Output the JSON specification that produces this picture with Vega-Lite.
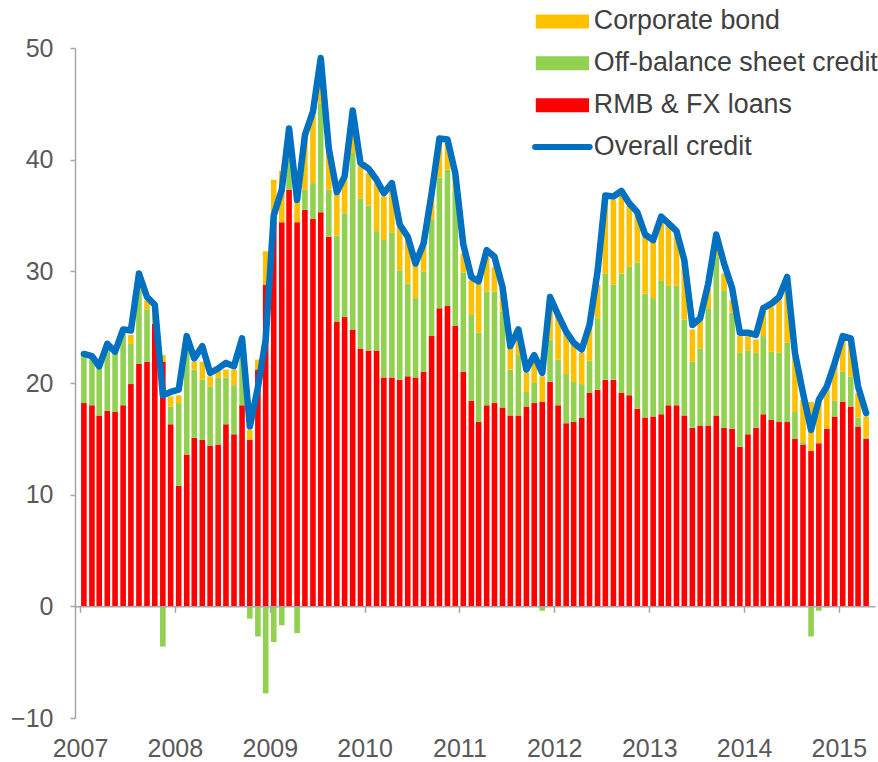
{
  "$schema": "https://vega.github.io/schema/vega-lite/v6.json",
  "width": 800,
  "height": 670,
  "autosize": {"type": "none"},
  "padding": {"left": 75, "top": 48, "right": 3, "bottom": 44},
  "background": "white",
  "config": {"view": {"stroke": null}, "font": "Liberation Sans"},
  "data": {"values": [
    {"d":"2007-01-16","rmb":18.2,"obs":4.2,"bond":0.1,"total":22.6},
    {"d":"2007-02-16","rmb":18.0,"obs":4.2,"bond":0.1,"total":22.4},
    {"d":"2007-03-16","rmb":17.1,"obs":4.4,"bond":0.1,"total":21.5},
    {"d":"2007-04-16","rmb":17.5,"obs":5.7,"bond":0.2,"total":23.5},
    {"d":"2007-05-16","rmb":17.4,"obs":5.3,"bond":0.1,"total":22.8},
    {"d":"2007-06-16","rmb":18.0,"obs":6.6,"bond":0.2,"total":24.8},
    {"d":"2007-07-16","rmb":19.9,"obs":3.6,"bond":0.8,"total":24.7},
    {"d":"2007-08-16","rmb":21.7,"obs":6.6,"bond":0.6,"total":29.8},
    {"d":"2007-09-16","rmb":21.9,"obs":4.7,"bond":0.8,"total":27.7},
    {"d":"2007-10-16","rmb":25.3,"obs":0.9,"bond":0.4,"total":27.0},
    {"d":"2007-11-16","rmb":21.9,"obs":-3.6,"bond":0.6,"total":18.9},
    {"d":"2007-12-16","rmb":16.3,"obs":1.6,"bond":0.9,"total":19.2},
    {"d":"2008-01-16","rmb":10.8,"obs":7.4,"bond":0.7,"total":19.4},
    {"d":"2008-02-16","rmb":13.6,"obs":9.8,"bond":0.5,"total":24.2},
    {"d":"2008-03-16","rmb":15.1,"obs":6.1,"bond":0.7,"total":22.2},
    {"d":"2008-04-16","rmb":14.9,"obs":5.4,"bond":1.6,"total":23.3},
    {"d":"2008-05-16","rmb":14.4,"obs":5.3,"bond":0.9,"total":20.9},
    {"d":"2008-06-16","rmb":14.5,"obs":6.0,"bond":0.8,"total":21.3},
    {"d":"2008-07-16","rmb":16.3,"obs":4.2,"bond":0.7,"total":21.8},
    {"d":"2008-08-16","rmb":15.4,"obs":4.4,"bond":1.4,"total":21.5},
    {"d":"2008-09-16","rmb":18.0,"obs":4.5,"bond":1.1,"total":24.0},
    {"d":"2008-10-16","rmb":14.9,"obs":-1.1,"bond":0.9,"total":16.1},
    {"d":"2008-11-16","rmb":21.2,"obs":-2.7,"bond":0.9,"total":19.6},
    {"d":"2008-12-16","rmb":28.8,"obs":-7.8,"bond":3.0,"total":23.9},
    {"d":"2009-01-16","rmb":34.5,"obs":-3.2,"bond":3.7,"total":35.0},
    {"d":"2009-02-16","rmb":34.4,"obs":-1.7,"bond":4.6,"total":37.3},
    {"d":"2009-03-16","rmb":37.3,"obs":2.7,"bond":2.3,"total":42.8},
    {"d":"2009-04-16","rmb":34.4,"obs":-2.4,"bond":4.4,"total":36.4},
    {"d":"2009-05-16","rmb":35.5,"obs":1.8,"bond":4.5,"total":42.2},
    {"d":"2009-06-16","rmb":34.7,"obs":3.2,"bond":6.1,"total":44.3},
    {"d":"2009-07-16","rmb":35.3,"obs":9.7,"bond":3.8,"total":49.1},
    {"d":"2009-08-16","rmb":33.1,"obs":4.2,"bond":3.5,"total":41.0},
    {"d":"2009-09-16","rmb":25.5,"obs":7.7,"bond":4.0,"total":37.1},
    {"d":"2009-10-16","rmb":25.9,"obs":9.3,"bond":3.3,"total":38.5},
    {"d":"2009-11-16","rmb":24.8,"obs":15.8,"bond":3.0,"total":44.4},
    {"d":"2009-12-16","rmb":23.1,"obs":13.4,"bond":2.9,"total":39.7},
    {"d":"2010-01-16","rmb":22.9,"obs":13.0,"bond":2.9,"total":39.2},
    {"d":"2010-02-16","rmb":22.9,"obs":10.7,"bond":4.3,"total":38.2},
    {"d":"2010-03-16","rmb":20.5,"obs":12.3,"bond":3.9,"total":37.0},
    {"d":"2010-04-16","rmb":20.5,"obs":13.0,"bond":4.1,"total":37.9},
    {"d":"2010-05-16","rmb":20.3,"obs":9.8,"bond":3.9,"total":34.2},
    {"d":"2010-06-16","rmb":20.6,"obs":8.3,"bond":4.2,"total":33.1},
    {"d":"2010-07-16","rmb":20.5,"obs":7.1,"bond":3.4,"total":30.7},
    {"d":"2010-08-16","rmb":21.0,"obs":9.0,"bond":2.2,"total":32.5},
    {"d":"2010-09-16","rmb":24.2,"obs":10.4,"bond":2.1,"total":37.0},
    {"d":"2010-10-16","rmb":26.7,"obs":11.7,"bond":3.1,"total":41.9},
    {"d":"2010-11-16","rmb":26.9,"obs":12.2,"bond":2.7,"total":41.8},
    {"d":"2010-12-16","rmb":25.1,"obs":12.2,"bond":1.2,"total":38.8},
    {"d":"2011-01-16","rmb":21.0,"obs":8.9,"bond":1.7,"total":32.4},
    {"d":"2011-02-16","rmb":18.4,"obs":7.7,"bond":3.1,"total":29.5},
    {"d":"2011-03-16","rmb":16.5,"obs":8.0,"bond":4.4,"total":29.1},
    {"d":"2011-04-16","rmb":18.0,"obs":10.2,"bond":3.1,"total":31.9},
    {"d":"2011-05-16","rmb":18.2,"obs":10.0,"bond":2.2,"total":31.3},
    {"d":"2011-06-16","rmb":17.8,"obs":8.6,"bond":1.9,"total":28.6},
    {"d":"2011-07-16","rmb":17.1,"obs":4.1,"bond":2.1,"total":23.3},
    {"d":"2011-08-16","rmb":17.1,"obs":5.4,"bond":1.4,"total":24.8},
    {"d":"2011-09-16","rmb":17.9,"obs":1.3,"bond":1.7,"total":21.2},
    {"d":"2011-10-16","rmb":18.2,"obs":1.8,"bond":1.8,"total":22.5},
    {"d":"2011-11-16","rmb":18.3,"obs":-0.4,"bond":2.3,"total":20.9},
    {"d":"2011-12-16","rmb":20.1,"obs":3.8,"bond":2.9,"total":27.7},
    {"d":"2012-01-16","rmb":18.0,"obs":4.1,"bond":3.8,"total":26.1},
    {"d":"2012-02-16","rmb":16.4,"obs":4.4,"bond":3.7,"total":24.6},
    {"d":"2012-03-16","rmb":16.5,"obs":3.6,"bond":3.5,"total":23.6},
    {"d":"2012-04-16","rmb":16.9,"obs":3.0,"bond":2.8,"total":23.0},
    {"d":"2012-05-16","rmb":19.1,"obs":2.9,"bond":3.0,"total":25.2},
    {"d":"2012-06-16","rmb":19.4,"obs":6.4,"bond":3.0,"total":30.0},
    {"d":"2012-07-16","rmb":20.3,"obs":9.5,"bond":6.6,"total":36.8},
    {"d":"2012-08-16","rmb":20.3,"obs":8.5,"bond":7.6,"total":36.7},
    {"d":"2012-09-16","rmb":19.1,"obs":10.7,"bond":7.2,"total":37.2},
    {"d":"2012-10-16","rmb":18.9,"obs":11.5,"bond":5.5,"total":36.1},
    {"d":"2012-11-16","rmb":17.7,"obs":13.1,"bond":4.4,"total":35.3},
    {"d":"2012-12-16","rmb":16.9,"obs":11.1,"bond":5.1,"total":33.3},
    {"d":"2013-01-16","rmb":17.0,"obs":10.6,"bond":5.1,"total":32.8},
    {"d":"2013-02-16","rmb":17.2,"obs":12.0,"bond":5.6,"total":34.9},
    {"d":"2013-03-16","rmb":18.0,"obs":10.7,"bond":5.5,"total":34.3},
    {"d":"2013-04-16","rmb":18.0,"obs":10.7,"bond":4.7,"total":33.6},
    {"d":"2013-05-16","rmb":17.1,"obs":8.6,"bond":5.0,"total":31.0},
    {"d":"2013-06-16","rmb":16.0,"obs":5.9,"bond":2.9,"total":25.2},
    {"d":"2013-07-16","rmb":16.2,"obs":6.9,"bond":2.5,"total":25.8},
    {"d":"2013-08-16","rmb":16.2,"obs":10.5,"bond":1.8,"total":28.9},
    {"d":"2013-09-16","rmb":17.1,"obs":14.2,"bond":1.2,"total":33.3},
    {"d":"2013-10-16","rmb":16.0,"obs":12.3,"bond":1.5,"total":30.7},
    {"d":"2013-11-16","rmb":15.9,"obs":10.4,"bond":1.1,"total":28.5},
    {"d":"2013-12-16","rmb":14.3,"obs":8.4,"bond":1.5,"total":24.5},
    {"d":"2014-01-16","rmb":15.4,"obs":7.5,"bond":1.3,"total":24.5},
    {"d":"2014-02-16","rmb":16.0,"obs":6.7,"bond":1.2,"total":24.3},
    {"d":"2014-03-16","rmb":17.2,"obs":7.0,"bond":2.3,"total":26.7},
    {"d":"2014-04-16","rmb":16.7,"obs":6.1,"bond":4.0,"total":27.1},
    {"d":"2014-05-16","rmb":16.5,"obs":6.2,"bond":4.7,"total":27.7},
    {"d":"2014-06-16","rmb":16.5,"obs":7.1,"bond":5.6,"total":29.5},
    {"d":"2014-07-16","rmb":15.0,"obs":2.4,"bond":5.0,"total":22.7},
    {"d":"2014-08-16","rmb":14.5,"obs":0.2,"bond":3.8,"total":19.1},
    {"d":"2014-09-16","rmb":13.9,"obs":-2.7,"bond":4.4,"total":15.8},
    {"d":"2014-10-16","rmb":14.6,"obs":-0.4,"bond":3.9,"total":18.5},
    {"d":"2014-11-16","rmb":15.9,"obs":-0.1,"bond":3.5,"total":19.7},
    {"d":"2014-12-16","rmb":17.0,"obs":1.4,"bond":3.4,"total":21.8},
    {"d":"2015-01-16","rmb":18.3,"obs":2.7,"bond":2.9,"total":24.2},
    {"d":"2015-02-16","rmb":17.9,"obs":2.7,"bond":3.4,"total":24.0},
    {"d":"2015-03-16","rmb":16.1,"obs":0.8,"bond":2.2,"total":19.7},
    {"d":"2015-04-16","rmb":15.0,"obs":0.1,"bond":1.9,"total":17.3}
  ]},
  "layer": [
    {
      "transform": [{"fold": ["rmb", "obs", "bond"], "as": ["series", "value"]}],
      "mark": {"type": "bar", "size": 5.6},
      "encoding": {
        "x": {
          "field": "d", "type": "temporal",
          "scale": {"type": "utc", "domain": [{"year": 2007, "month": 1, "date": 1, "utc": true}, {"year": 2015, "month": 5, "date": 1, "utc": true}]},
          "axis": {
            "orient": "bottom",
            "title": null, "grid": false, "domain": false, "ticks": false,
            "format": "%Y",
            "values": [
              {"year": 2007, "month": 1, "date": 1, "utc": true},
              {"year": 2008, "month": 1, "date": 1, "utc": true},
              {"year": 2009, "month": 1, "date": 1, "utc": true},
              {"year": 2010, "month": 1, "date": 1, "utc": true},
              {"year": 2011, "month": 1, "date": 1, "utc": true},
              {"year": 2012, "month": 1, "date": 1, "utc": true},
              {"year": 2013, "month": 1, "date": 1, "utc": true},
              {"year": 2014, "month": 1, "date": 1, "utc": true},
              {"year": 2015, "month": 1, "date": 1, "utc": true}
            ],
            "labelFont": "Liberation Sans", "labelFontSize": 25, "labelColor": "#595959",
            "labelPadding": 18, "labelFlush": false, "labelBound": false, "labelOverlap": false
          }
        },
        "y": {
          "field": "value", "type": "quantitative", "stack": "zero",
          "scale": {"domain": [-10, 50], "nice": false, "zero": false},
          "axis": {
            "title": null, "grid": false, "values": [-10, 0, 10, 20, 30, 40, 50],
            "domainColor": "#a6a6a6", "domainWidth": 1.5,
            "tickColor": "#a6a6a6", "tickWidth": 1.5, "tickSize": 5,
            "labelFont": "Liberation Sans", "labelFontSize": 25, "labelColor": "#595959",
            "labelPadding": 17
          }
        },
        "order": {"field": "series", "sort": "descending"},
        "color": {
          "field": "series", "type": "nominal",
          "scale": {"domain": ["bond", "obs", "rmb", "total"], "range": ["#FFC000", "#92D050", "#FF0000", "#0070C0"]},
          "legend": {
            "orient": "none", "legendX": 474, "legendY": -40,
            "title": null, "padding": 0,
            "labelFont": "Liberation Sans", "labelFontSize": 26.8, "labelColor": "#404040", "labelLimit": 500,
            "labelExpr": "datum.value === 'bond' ? 'Corporate bond' : datum.value === 'obs' ? 'Off-balance sheet credit' : datum.value === 'rmb' ? 'RMB & FX loans' : 'Overall credit'",
            "symbolType": "M-3.8,-1L3.8,-1L3.8,1L-3.8,1Z",
            "symbolSize": 196, "symbolStrokeWidth": 0,
            "labelOffset": 18, "rowPadding": 13.9,
            "encoding": {
              "symbols": {
                "shape": {"value": {"signal": "datum.value === 'total' ? 'M-3.9,0L3.9,0' : 'M-3.8,-1L3.8,-1L3.8,1L-3.8,1Z'"}},
                "fill": {"value": {"signal": "datum.value === 'total' ? 'transparent' : scale('color', datum.value)"}},
                "stroke": {"value": {"signal": "scale('color', datum.value)"}},
                "strokeWidth": {"value": {"signal": "datum.value === 'total' ? 6 : 0"}},
                "strokeCap": {"value": "round"},
                "opacity": {"value": 1}
              }
            }
          }
        }
      }
    },
    {
      "mark": {"type": "line", "strokeWidth": 6.5, "strokeJoin": "round", "strokeCap": "round"},
      "encoding": {
        "x": {
          "field": "d", "type": "temporal",
          "axis": {
            "orient": "bottom",
            "title": null, "grid": false, "labels": false, "offset": -111.67, "zindex": 1,
            "values": [
              {"year": 2007, "month": 1, "date": 1, "utc": true},
              {"year": 2008, "month": 1, "date": 1, "utc": true},
              {"year": 2009, "month": 1, "date": 1, "utc": true},
              {"year": 2010, "month": 1, "date": 1, "utc": true},
              {"year": 2011, "month": 1, "date": 1, "utc": true},
              {"year": 2012, "month": 1, "date": 1, "utc": true},
              {"year": 2013, "month": 1, "date": 1, "utc": true},
              {"year": 2014, "month": 1, "date": 1, "utc": true},
              {"year": 2015, "month": 1, "date": 1, "utc": true}
            ],
            "domainColor": "#a6a6a6", "domainWidth": 1.5,
            "tickColor": "#a6a6a6", "tickWidth": 1.5, "tickSize": 6
          }
        },
        "y": {"field": "total", "type": "quantitative"},
        "color": {"datum": "total", "type": "nominal"}
      }
    }
  ],
  "resolve": {"axis": {"x": "independent"}}
}
